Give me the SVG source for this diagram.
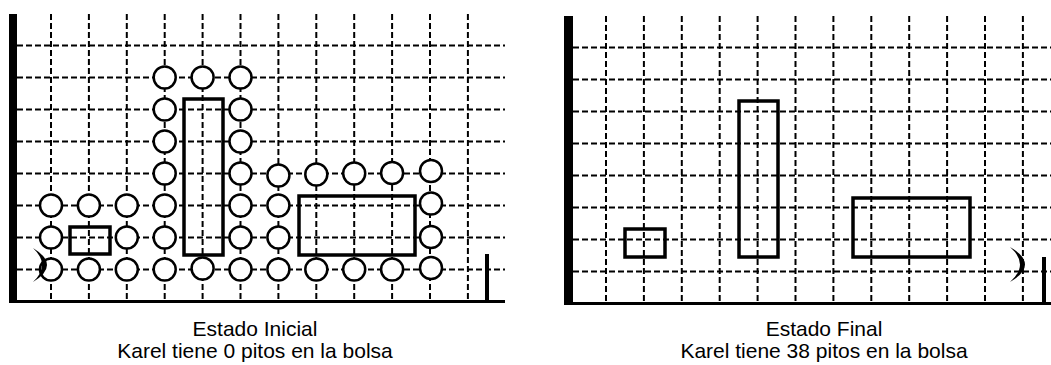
<svg xmlns="http://www.w3.org/2000/svg" width="1051" height="365" viewBox="0 0 1051 365">
<style>
.grid{stroke:#000;stroke-width:2;stroke-dasharray:6 3;fill:none}
.wall{fill:#000}
.floor{stroke:#000;stroke-width:3;fill:none}
.pito{fill:#fff;stroke:#000;stroke-width:2.5}
.box{fill:none;stroke:#000;stroke-width:3.5}
.karel{fill:#000}
.post{stroke:#000;stroke-width:4}
.cap{font-family:"Liberation Sans",Arial,sans-serif;font-size:21px;fill:#000;text-anchor:middle}
</style>
<defs>
<circle id="p" r="11" class="pito"/>
</defs>
<g id="panel-inicial">
<g id="grid-inicial" class="grid">
<path d="M51 14V301M88.9 14V301M126.8 14V301M164.7 14V301M202.6 14V301M240.5 14V301M278.4 14V301M316.3 14V301M354.2 14V301M392.1 14V301M430 14V301M467.9 14V301"/>
<path d="M17 45.5H505M17 77.5H505M17 109.5H505M17 141.5H505M17 173.5H505M17 205.5H505M17 237.5H505M17 269.5H505"/>
</g>
<rect class="wall" x="9" y="14" width="8" height="289"/>
<line class="floor" x1="9" y1="301.5" x2="505" y2="301.5"/>
<g id="pitos-inicial">
<use href="#p" x="164.7" y="77.5"/><use href="#p" x="202.6" y="77.5"/><use href="#p" x="240.5" y="77.5"/>
<use href="#p" x="164.7" y="109.5"/><use href="#p" x="240.5" y="109.5"/>
<use href="#p" x="164.7" y="141.5"/><use href="#p" x="240.5" y="141.5"/>
<use href="#p" x="164.7" y="173.5"/><use href="#p" x="240.5" y="173.5"/><use href="#p" x="278.4" y="175.5"/><use href="#p" x="316.3" y="174.5"/><use href="#p" x="354.2" y="173.5"/><use href="#p" x="392.1" y="173"/><use href="#p" x="431" y="171"/>
<use href="#p" x="51" y="205.5"/><use href="#p" x="88.9" y="205.5"/><use href="#p" x="126.8" y="205.5"/><use href="#p" x="164.7" y="205.5"/><use href="#p" x="240.5" y="205.5"/><use href="#p" x="278.4" y="205.5"/><use href="#p" x="431" y="203.5"/>
<use href="#p" x="51" y="237.5"/><use href="#p" x="126.8" y="237.5"/><use href="#p" x="164.7" y="237.5"/><use href="#p" x="240.5" y="237.5"/><use href="#p" x="278.4" y="237.5"/><use href="#p" x="431" y="237"/>
<use href="#p" x="51" y="269.5"/><use href="#p" x="88.9" y="269.5"/><use href="#p" x="126.8" y="269.5"/><use href="#p" x="164.7" y="269.5"/><use href="#p" x="202.6" y="268.5"/><use href="#p" x="240.5" y="269.5"/><use href="#p" x="278.4" y="269.5"/><use href="#p" x="316.3" y="269.5"/><use href="#p" x="354.2" y="269.5"/><use href="#p" x="392.1" y="269.5"/><use href="#p" x="431" y="268"/>
</g>
<rect id="caja-a1" class="box" x="70" y="227" width="40" height="27"/>
<rect id="caja-b1" class="box" x="184" y="99" width="39" height="156"/>
<rect id="caja-c1" class="box" x="299" y="196" width="116" height="59"/>
<path id="karel-inicial" class="karel" d="M33 248Q61 265 33 282Q51 265 33 248Z"/>
<line id="poste-inicial" class="post" x1="487" y1="254" x2="487" y2="300"/>
<text class="cap" x="255" y="336">Estado Inicial</text>
<text class="cap" x="255" y="358">Karel tiene 0 pitos en la bolsa</text>
</g>
<g id="panel-final">
<g id="grid-final" class="grid">
<path d="M606 16V303M643.9 16V303M681.8 16V303M719.7 16V303M757.6 16V303M795.5 16V303M833.4 16V303M871.3 16V303M909.2 16V303M947.1 16V303M985 16V303M1022.9 16V303"/>
<path d="M573 47.5H1051M573 79.5H1051M573 111.5H1051M573 143.5H1051M573 175.5H1051M573 207.5H1051M573 239.5H1051M573 271.5H1051"/>
</g>
<rect class="wall" x="564" y="16" width="9" height="289"/>
<line class="floor" x1="564" y1="303.5" x2="1051" y2="303.5"/>
<rect id="caja-a2" class="box" x="625" y="229" width="40" height="28"/>
<rect id="caja-b2" class="box" x="739" y="101" width="39" height="156"/>
<rect id="caja-c2" class="box" x="853" y="198" width="117" height="59"/>
<path id="karel-final" class="karel" d="M1010 247Q1040 264.5 1010 282Q1030 264.5 1010 247Z"/>
<line id="poste-final" class="post" x1="1044" y1="257" x2="1044" y2="303"/>
<text class="cap" x="824" y="336">Estado Final</text>
<text class="cap" x="824" y="358">Karel tiene 38 pitos en la bolsa</text>
</g>
</svg>
